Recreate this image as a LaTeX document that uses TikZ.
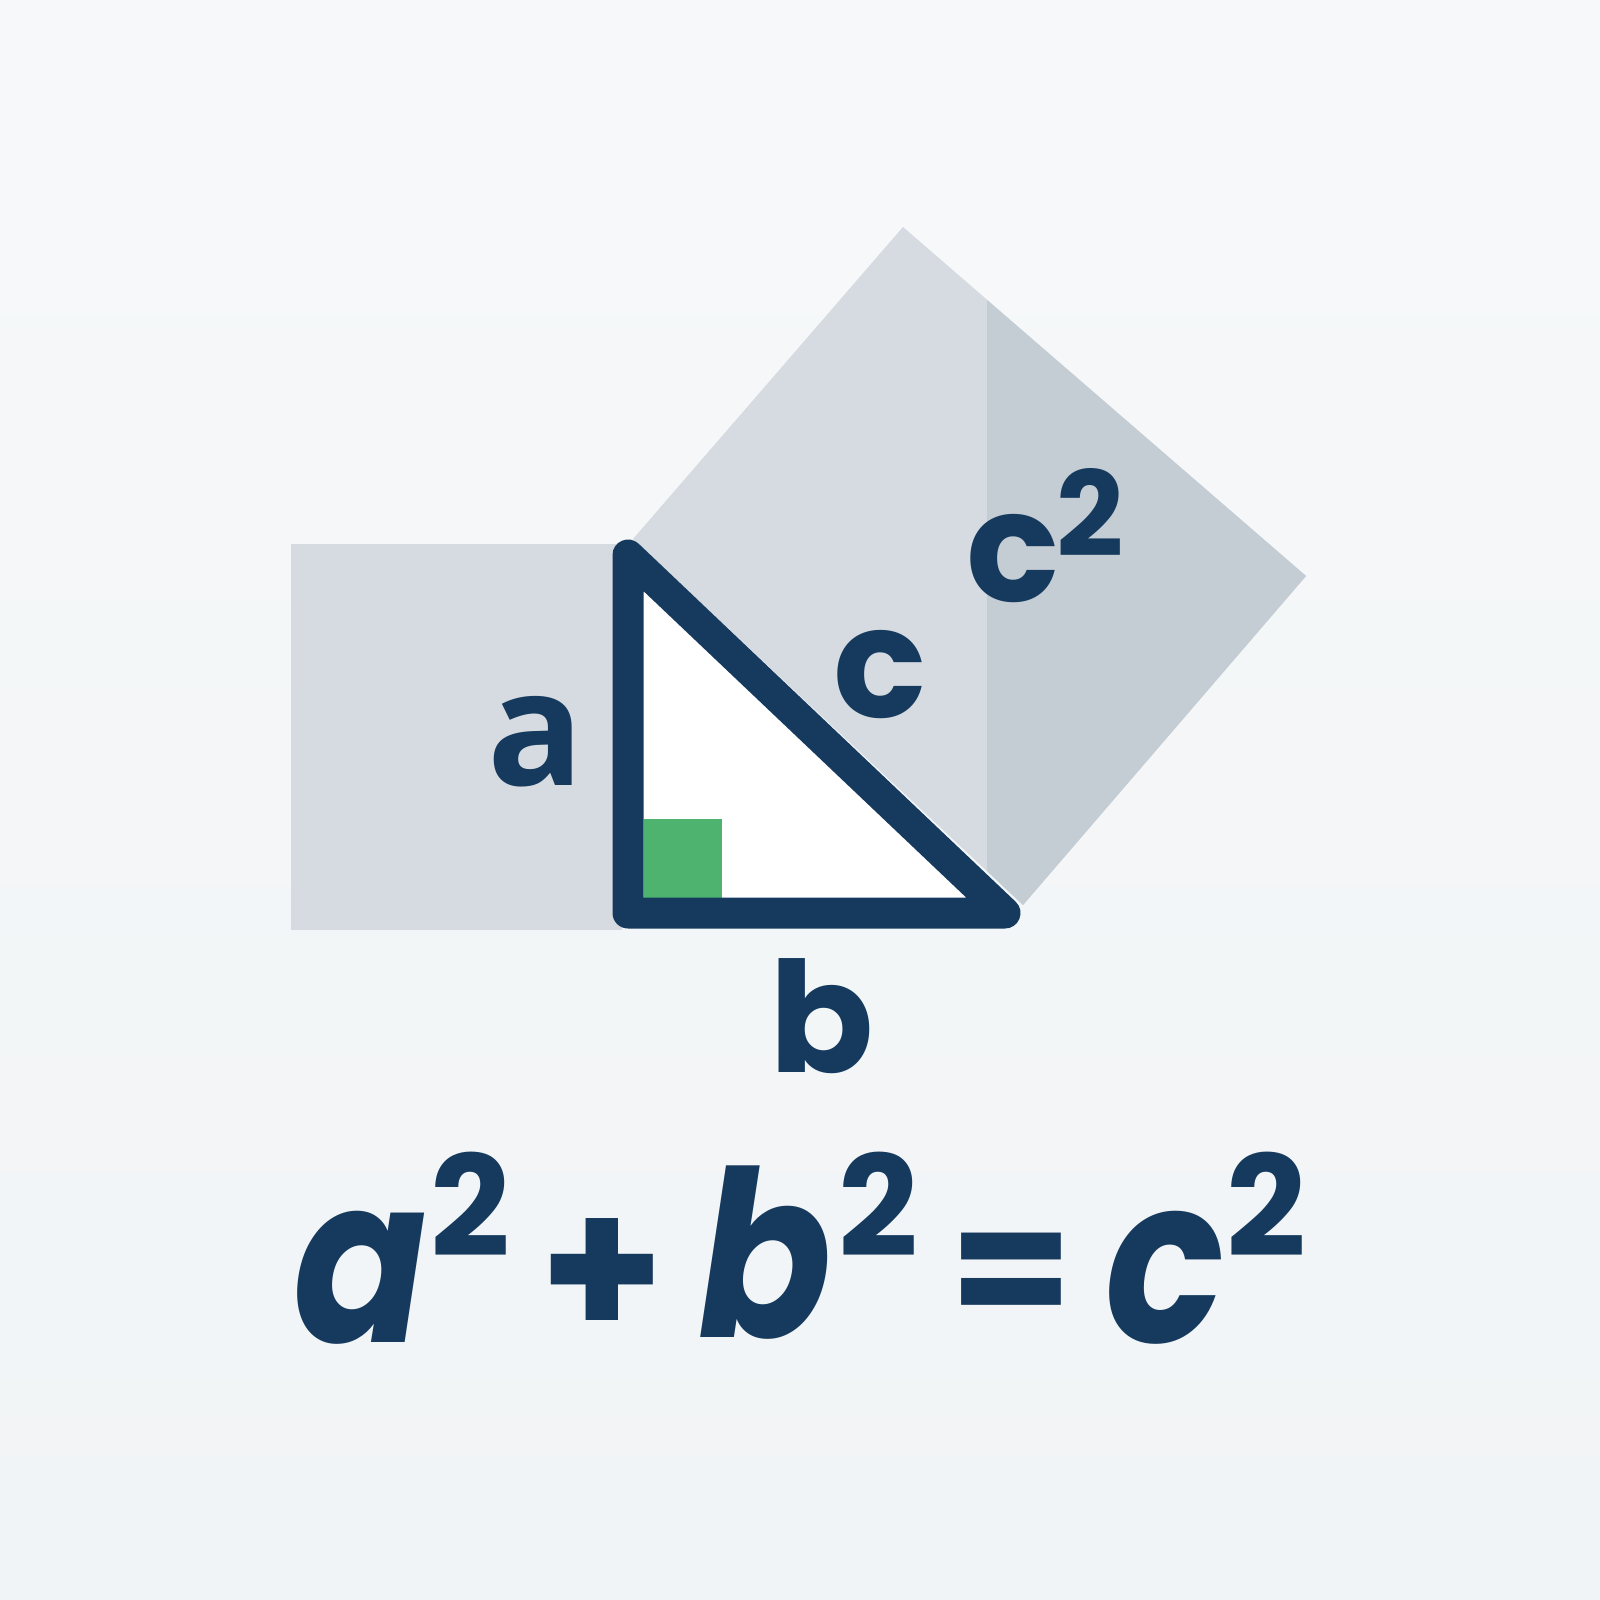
\documentclass[tikz,border=0pt]{standalone}
\usepackage{fontspec}
\newfontfamily\lblfont{Poppins}
\newfontfamily\eqfont{Poppins}[FakeStretch=0.85]
\newfontfamily\afont{Open Sans}
\definecolor{bgc}{HTML}{F1F4F6}
\definecolor{navy}{RGB}{21,58,94}
\definecolor{sqlight}{HTML}{D5DBE0}
\definecolor{sqdark}{HTML}{C4CCD4}
\definecolor{rgreen}{HTML}{4DB36F}
\tikzset{
  lbl/.style={inner sep=0pt, text=navy, font=\lblfont\bfseries\fontsize{77}{80}\selectfont},
  albl/.style={inner sep=0pt, text=navy, font=\afont\bfseries\fontsize{80}{84}\selectfont},
  suplbl/.style={inner sep=0pt, text=navy, font=\lblfont\bfseries\fontsize{59}{62}\selectfont},
  eqletter/.style={inner sep=0pt, text=navy, font=\eqfont\bfseries\itshape\fontsize{116}{120}\selectfont},
  eqsym/.style={inner sep=0pt, text=navy, font=\lblfont\bfseries\fontsize{70}{74}\selectfont},
  eqplus/.style={inner sep=0pt, text=navy, font=\lblfont\bfseries\fontsize{100}{104}\selectfont},
  eqequal/.style={inner sep=0pt, text=navy, font=\lblfont\bfseries\fontsize{89}{92}\selectfont},
}
\begin{document}
\begin{tikzpicture}[x=0.5pt,y=-0.5pt]
\useasboundingbox (0,0) rectangle (1600,1600);
\shade[top color=bgc!60!white, bottom color=bgc] (0,0) rectangle (1600,1600);
% left square (a^2)
\fill[sqlight] (291,544) rectangle (622,930);
% hypotenuse square (c^2)
\fill[sqlight] (633,539) -- (903,227) -- (1306,576) -- (1023,905) -- cycle;
\fill[sqdark] (987,300) -- (1306,576) -- (1023,905) -- (987,871) -- cycle;
% triangle
\coordinate (T) at (628,555);
\coordinate (B) at (628,913);
\coordinate (R) at (1005,913);
\fill[white] (T) -- (B) -- (R) -- cycle;
\fill[rgreen] (644,819) rectangle (722,898);
\draw[navy, line width=15.5pt, line join=round] (T) -- (B) -- (R) -- cycle;
% labels
\node[albl] (la) at (535.5,741.5) {a};
\node[lbl] (lb) at (821.5,1016) {b};
\node[lbl] (lc) at (880,675) {c};
\node[lbl] (lcc) at (1013,558.5) {c};
\node[suplbl] (lcc2) at (1090,512.5) {2};
% equation
\node[eqletter] (ea) at (360,1278) {a};
\node[eqsym] (ea2) at (470,1204) {2};
\node[eqplus] (plus) at (602,1279) {+};
\node[eqletter] (eb) at (765,1252.5) {b};
\node[eqsym] (eb2) at (878,1204) {2};
\node[eqequal] (equals) at (1011.5,1282) {=};
\node[eqletter] (ec) at (1165,1278) {c};
\node[eqsym] (ec2) at (1266,1204) {2};
\end{tikzpicture}
\end{document}
